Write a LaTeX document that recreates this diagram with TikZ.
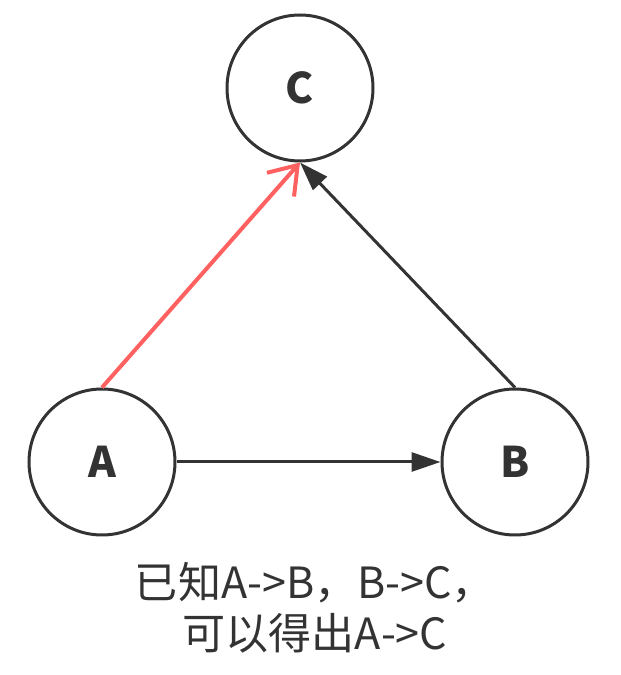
\documentclass[tikz,border=0pt]{standalone}
\usepackage{fontspec}
\setmainfont{Noto Sans CJK SC}
\usetikzlibrary{arrows.meta}
\definecolor{edgegray}{HTML}{333333}
\definecolor{infered}{HTML}{FF6060}

\def\nodesize{2.92cm}

\begin{document}
\begin{tikzpicture}[line width=0.06cm,draw=edgegray]
			    \tikzstyle{vertex}=[circle,draw=edgegray,minimum size=\nodesize,inner sep=0pt,font=\fontsize{24}{29}\selectfont\bfseries,text=edgegray]
			    \tikzstyle{known}=[draw=edgegray,-{Triangle[length=0.58cm,width=0.38cm]}]
			    \tikzstyle{derived}=[draw=infered,line width=0.08cm,-{Straight Barb[length=0.52cm,width=0.72cm,line width=0.08cm]}]
			    \tikzstyle{annot}=[align=center,font=\fontsize{24.5}{29}\selectfont,text=edgegray]

			    \useasboundingbox (0,0) rectangle (12.4,13.5);

			    %%% DRAW THE NODES
			    \node[vertex] (C) at (6.0,11.74) {C};
			    \node[vertex] (A) at (2.04,4.26) {A};
			    \node[vertex] (B) at (10.3,4.26) {B};

			    %%% DRAW THE PATHS
			    \path (A) edge[known] (B);
			    \path (B.north) edge[known] (C.south);
			    \path (A.north) edge[derived] (C.south);

			    %%% ANOTATE
			    \node[annot] (note) at (6.3,1.35) {已知A->B，B->C，\\可以得出A->C};

			\end{tikzpicture}
\end{document}
